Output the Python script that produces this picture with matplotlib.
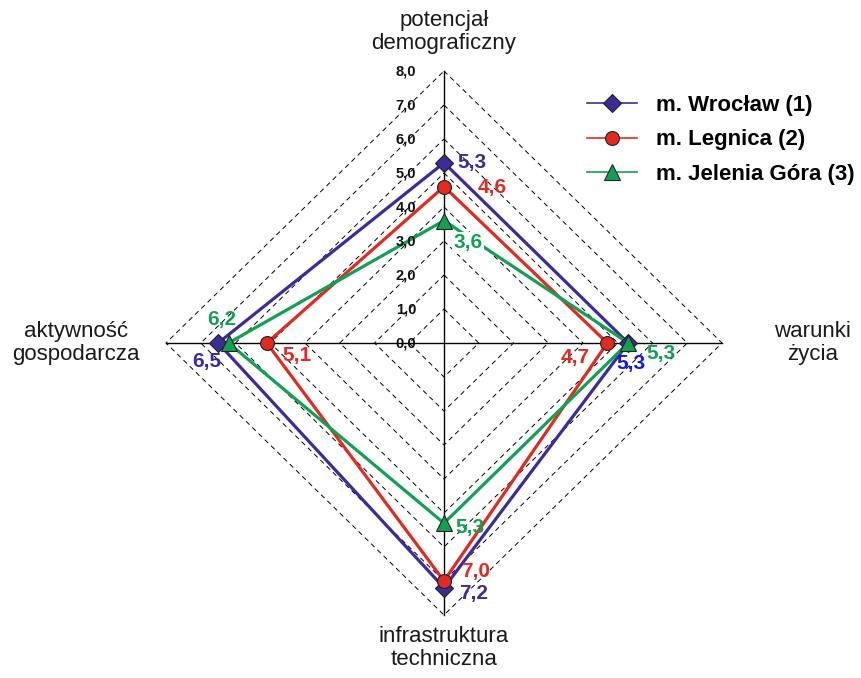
import numpy as np
import matplotlib.pyplot as plt
from matplotlib.lines import Line2D

plt.rcParams['font.family'] = ['Liberation Sans', 'DejaVu Sans']

# osie wykresu (od góry, zgodnie z ruchem wskazówek zegara)
kategorie = ['potencjał\ndemograficzny', 'warunki\nżycia',
             'infrastruktura\ntechniczna', 'aktywność\ngospodarcza']
katy = np.deg2rad([90, 0, 270, 180])

serie = ['m. Wrocław (1)', 'm. Legnica (2)', 'm. Jelenia Góra (3)']
wroclaw = [5.3, 5.3, 7.2, 6.5]
legnica = [4.6, 4.7, 7.0, 5.1]
jelenia_gora = [3.6, 5.3, 5.3, 6.2]

poziomy = [0, 1, 2, 3, 4, 5, 6, 7, 8]
etykiety_poziomow = ['0,0', '1,0', '2,0', '3,0', '4,0', '5,0', '6,0', '7,0', '8,0']

# wyglad
kolory = ['#3b2c98', '#e02a22', '#12a052']
markery = ['D', 'o', '^']
rozmiary = [9, 10, 11]
# kolor etykiety wartosci (Wroclaw na osi "warunki zycia" jest czysto niebieski)
kolory_etykiet = [['#3b2c98', '#1414f0', '#3b2c98', '#3b2c98'],
                  ['#e02a22'] * 4,
                  ['#12a052'] * 4]
# przesuniecia etykiet wartosci w pikselach
przesuniecia = [[(28, 0), (3, -20), (30, -6), (-11, -19)],
                [(48, -1), (-32, -15), (32, 9), (30, -12)],
                [(24, -22), (33, -10), (26, -4), (-7, 23)]]
# biale tlo pod etykieta (tylko tam, gdzie etykieta przykrywa linie)
tlo = [[False] * 4, [False] * 4, [True, False, False, False]]
promienie_kategorii = [9.15, 10.6, 8.97, 10.6]

fig = plt.figure(figsize=(8.62, 6.78), dpi=100)
ax = fig.add_axes([0, 0, 1, 1])
ax.set_xlim(-444 / 34.75, (862 - 444) / 34.75)
ax.set_ylim(-(678 - 343) / 34, 343 / 34)
ax.axis('off')

rmax = poziomy[-1]
cx = np.cos(katy)
cy = np.sin(katy)

# siatka - przerywane romby
for p in poziomy[1:]:
    ax.plot(np.append(p * cx, p * cx[0]), np.append(p * cy, p * cy[0]),
            color='black', lw=0.7, ls=(0, (5, 4)), zorder=1)

# osie
ax.plot([-rmax, rmax], [0, 0], color='black', lw=1.0, zorder=2)
ax.plot([0, 0], [-rmax, rmax], color='black', lw=1.0, zorder=2)

# etykiety skali
for p, t in zip(poziomy, etykiety_poziomow):
    ax.text(-0.8, p, t, ha='right', va='center', fontsize=10.5,
            fontweight='bold', color='#111111', zorder=6)

# nazwy osi
for k, kat, r in zip(kategorie, katy, promienie_kategorii):
    ax.text(r * np.cos(kat), r * np.sin(kat), k, ha='center', va='center',
            fontsize=16, color='#1a1a1a', linespacing=1.1)

# serie danych
uchwyty = []
for i, wart in enumerate([wroclaw, legnica, jelenia_gora]):
    w = np.array(wart)
    x = w * cx
    y = w * cy
    ax.plot(np.append(x, x[0]), np.append(y, y[0]), color=kolory[i],
            lw=2.3, zorder=3)
    ax.plot(x, y, ls='none', marker=markery[i], ms=rozmiary[i],
            markerfacecolor=kolory[i], markeredgecolor='#222222',
            markeredgewidth=0.8, zorder=4)
    for j in range(len(w)):
        bb = dict(facecolor='white', edgecolor='none', pad=1) if tlo[i][j] else None
        ax.annotate(f'{w[j]:.1f}'.replace('.', ','), (x[j], y[j]),
                    xytext=przesuniecia[i][j], textcoords='offset pixels',
                    ha='center', va='center', fontsize=15,
                    fontweight='bold', color=kolory_etykiet[i][j],
                    bbox=bb, zorder=5)
    uchwyty.append(Line2D([], [], color=kolory[i], lw=1.2,
                          marker=markery[i], ms=rozmiary[i],
                          markerfacecolor=kolory[i],
                          markeredgecolor='#222222', markeredgewidth=0.8))

fig.legend(uchwyty, serie, loc='upper left',
           bbox_to_anchor=(567 / 862, 1 - 75 / 678), frameon=False,
           prop={'size': 16, 'weight': 'bold'}, handlelength=2.25,
           labelspacing=0.6, handletextpad=0.85)

fig.savefig('out.png', dpi=100)
